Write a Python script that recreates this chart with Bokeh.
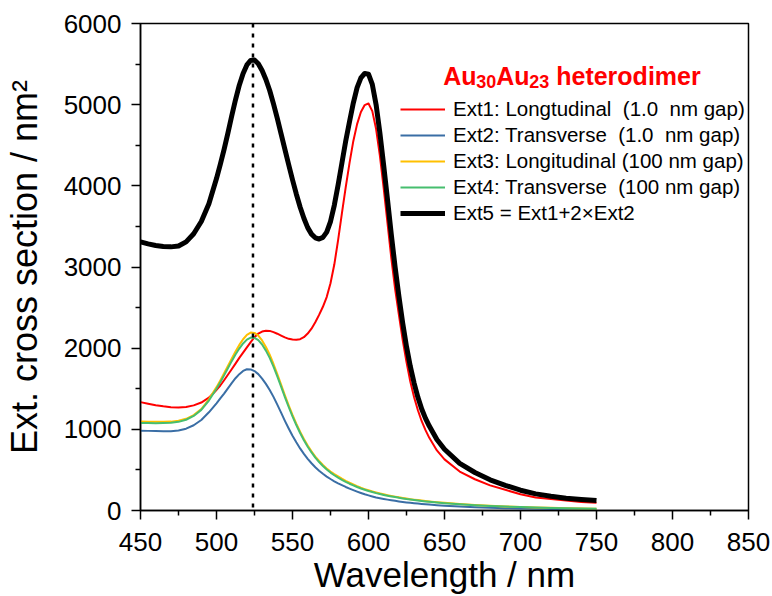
from bokeh.plotting import figure
from bokeh.models import Legend, LegendItem, Span, Label, FixedTicker, Range1d
from bokeh.embed import file_html
from bokeh.resources import INLINE

# ---------------- data ----------------
wavelength = [450, 455, 460, 465, 470, 475, 480, 485, 490, 495,
              500, 502.5, 505, 507.5, 510, 512.5, 515, 517.5, 520, 522.5,
              525, 527.5, 530, 532.5, 535, 537.5, 540, 542.5, 545, 547.5,
              550, 552.5, 555, 557.5, 560, 562.5, 565, 567.5, 570, 572.5,
              575, 577.5, 580, 582.5, 585, 587.5, 590, 592.5, 595, 597.5,
              600, 602.5, 605, 607.5, 610, 612.5, 615, 617.5, 620, 622.5,
              625, 627.5, 630, 632.5, 635, 637.5, 640, 645, 650, 660,
              670, 680, 690, 700, 710, 720, 730, 740, 750]

ext1_long_1nm = [1335, 1315, 1297, 1283, 1273, 1270, 1276, 1295, 1330, 1390,
                 1485, 1540, 1605, 1672, 1740, 1810, 1880, 1945, 2010, 2075,
                 2135, 2180, 2205, 2215, 2213, 2198, 2178, 2155, 2133, 2115,
                 2106, 2104, 2110, 2135, 2180, 2240, 2320, 2410, 2510, 2630,
                 2800, 3030, 3330, 3660, 3980, 4280, 4550, 4760, 4910, 4995,
                 5015, 4920, 4700, 4370, 3970, 3540, 3110, 2730, 2410, 2100,
                 1830, 1590, 1395, 1235, 1100, 990, 895, 740, 630, 480,
                 385, 310, 255, 200, 160, 142, 122, 106, 94]

ext2_trans_1nm = [984, 981, 978, 977, 977, 985, 1008, 1050, 1115, 1210,
                  1320, 1380, 1440, 1505, 1570, 1630, 1680, 1720, 1740, 1738,
                  1718, 1680, 1625, 1560, 1485, 1400, 1305, 1205, 1105, 1010,
                  920, 840, 765, 697, 637, 582, 533, 490, 452, 418,
                  388, 360, 335, 312, 290, 270, 251, 233, 216, 200,
                  186, 173, 161, 151, 142, 134, 126, 119, 112, 106,
                  100, 95, 90, 85, 81, 77, 73, 66, 60, 50,
                  41, 34, 29, 25, 21, 18, 16, 14, 12]

ext3_long_100nm = [1095, 1093, 1092, 1092, 1095, 1105, 1130, 1175, 1250, 1370,
                   1520, 1603, 1690, 1780, 1870, 1960, 2040, 2110, 2165, 2192,
                   2188, 2155, 2095, 2015, 1920, 1805, 1680, 1550, 1420, 1295,
                   1178, 1070, 970, 880, 800, 728, 665, 610, 560, 518,
                   480, 448, 420, 392, 366, 342, 320, 299, 280, 264,
                   249, 235, 222, 210, 199, 189, 180, 171, 162, 154,
                   147, 140, 134, 128, 122, 117, 112, 102, 94, 80,
                   68, 58, 50, 44, 38, 33, 29, 26, 23]

ext4_trans_100nm = [1078, 1077, 1076, 1077, 1080, 1092, 1118, 1165, 1240, 1355,
                    1500, 1580, 1665, 1752, 1840, 1922, 1995, 2058, 2105, 2130,
                    2128, 2098, 2045, 1970, 1880, 1772, 1652, 1525, 1397, 1275,
                    1160, 1053, 955, 866, 786, 715, 652, 597, 548, 505,
                    467, 434, 405, 378, 353, 330, 309, 289, 271, 255,
                    240, 227, 214, 203, 192, 182, 173, 165, 156, 149,
                    141, 135, 128, 122, 117, 112, 107, 98, 90, 76,
                    65, 56, 48, 42, 36, 32, 28, 25, 22]

ext5_sum = [3310, 3285, 3265, 3252, 3248, 3258, 3310, 3410, 3560, 3780,
            4090, 4265, 4450, 4650, 4860, 5060, 5240, 5385, 5490, 5545,
            5550, 5505, 5420, 5310, 5175, 5010, 4830, 4640, 4450, 4260,
            4075, 3900, 3740, 3600, 3485, 3405, 3360, 3345, 3365, 3430,
            3560, 3760, 4010, 4280, 4550, 4790, 5020, 5210, 5330, 5385,
            5375, 5250, 5000, 4650, 4250, 3830, 3400, 3000, 2640, 2310,
            2020, 1775, 1570, 1395, 1250, 1135, 1040, 875, 755, 580,
            468, 378, 310, 250, 205, 175, 152, 135, 122]

series_labels = ["Ext1: Longtudinal  (1.0  nm gap)",
                 "Ext2: Transverse  (1.0  nm gap)",
                 "Ext3: Longitudinal (100 nm gap)",
                 "Ext4: Transverse  (100 nm gap)",
                 "Ext5 = Ext1+2\u00d7Ext2"]

x_ticks = [450, 500, 550, 600, 650, 700, 750, 800, 850]
x_minor = [475, 525, 575, 625, 675, 725, 775, 825]
y_ticks = [0, 1000, 2000, 3000, 4000, 5000, 6000]
y_minor = [500, 1500, 2500, 3500, 4500, 5500]
peak_marker = 524

FONT = "Liberation Sans"

p = figure(width=772, height=596, output_backend="svg", toolbar_location=None,
           x_range=Range1d(450, 850), y_range=Range1d(0, 6000),
           min_border_left=139, min_border_right=24,
           min_border_top=23, min_border_bottom=84)
p.xgrid.visible = False
p.ygrid.visible = False
p.outline_line_color = "black"
p.outline_line_width = 1.5
p.background_fill_color = "white"

p.xaxis.ticker = FixedTicker(ticks=x_ticks, minor_ticks=x_minor)
p.yaxis.ticker = FixedTicker(ticks=y_ticks, minor_ticks=y_minor)

for ax in (p.xaxis[0], p.yaxis[0]):
    ax.axis_line_width = 1.5
    ax.axis_line_color = "black"
    ax.major_tick_line_width = 1.5
    ax.minor_tick_line_width = 1.5
    ax.major_tick_line_color = "black"
    ax.minor_tick_line_color = "black"
    ax.major_tick_in = 0
    ax.major_tick_out = 9
    ax.minor_tick_in = 0
    ax.minor_tick_out = 5
    ax.major_label_text_font = FONT
    ax.major_label_text_font_size = "26px"
    ax.major_label_text_color = "black"
    ax.axis_label_text_font = FONT
    ax.axis_label_text_font_style = "normal"
    ax.axis_label_text_color = "black"
    ax.axis_label_text_font_size = "35px"

p.xaxis.axis_label = "Wavelength / nm"
p.yaxis.axis_label = "Ext. cross section / nm\u00b2"
p.yaxis.axis_label_text_font_size = "36px"
p.xaxis.major_label_standoff = 13
p.yaxis.major_label_standoff = 10
p.xaxis.axis_label_standoff = 1
p.yaxis.axis_label_standoff = 16

colors = ["#FF0000", "#3A6EA5", "#FFC000", "#46BE6E", "#000000"]
widths = [2, 2, 2, 2, 5]
data = [ext1_long_1nm, ext2_trans_1nm, ext3_long_100nm, ext4_trans_100nm, ext5_sum]

renderers = []
for ys, c, w in zip(data, colors, widths):
    r = p.line(wavelength, ys, line_color=c, line_width=w, line_join="round")
    renderers.append(r)

p.add_layout(Span(location=peak_marker, dimension="height", line_color="black",
                  line_width=2.5, line_dash="4 6"))

legend = Legend(items=[LegendItem(label=l, renderers=[r]) for l, r in zip(series_labels, renderers)],
                location=(260, 284), padding=5, spacing=0, margin=0,
                label_height=26, glyph_height=26, glyph_width=45, label_standoff=8,
                border_line_color=None, background_fill_alpha=0,
                label_text_font=FONT, label_text_font_size="20.5px", label_text_color="black")
p.add_layout(legend)

# title with subscripts
title_parts = [("Au", 649.1, 5357, "25px"), ("30", 670.9, 5280, "18px"),
               ("Au", 684.0, 5357, "25px"), ("23", 705.7, 5280, "18px"),
               ("heterodimer", 723.5, 5357, "25px")]
for txt, x, y, fs in title_parts:
    p.add_layout(Label(x=x, y=y, text=txt, text_font=FONT, text_font_style="bold",
                       text_color="#FF0000", text_font_size=fs, text_baseline="alphabetic",
                       text_align="left"))

open("out.html", "w").write(file_html(p, INLINE))
